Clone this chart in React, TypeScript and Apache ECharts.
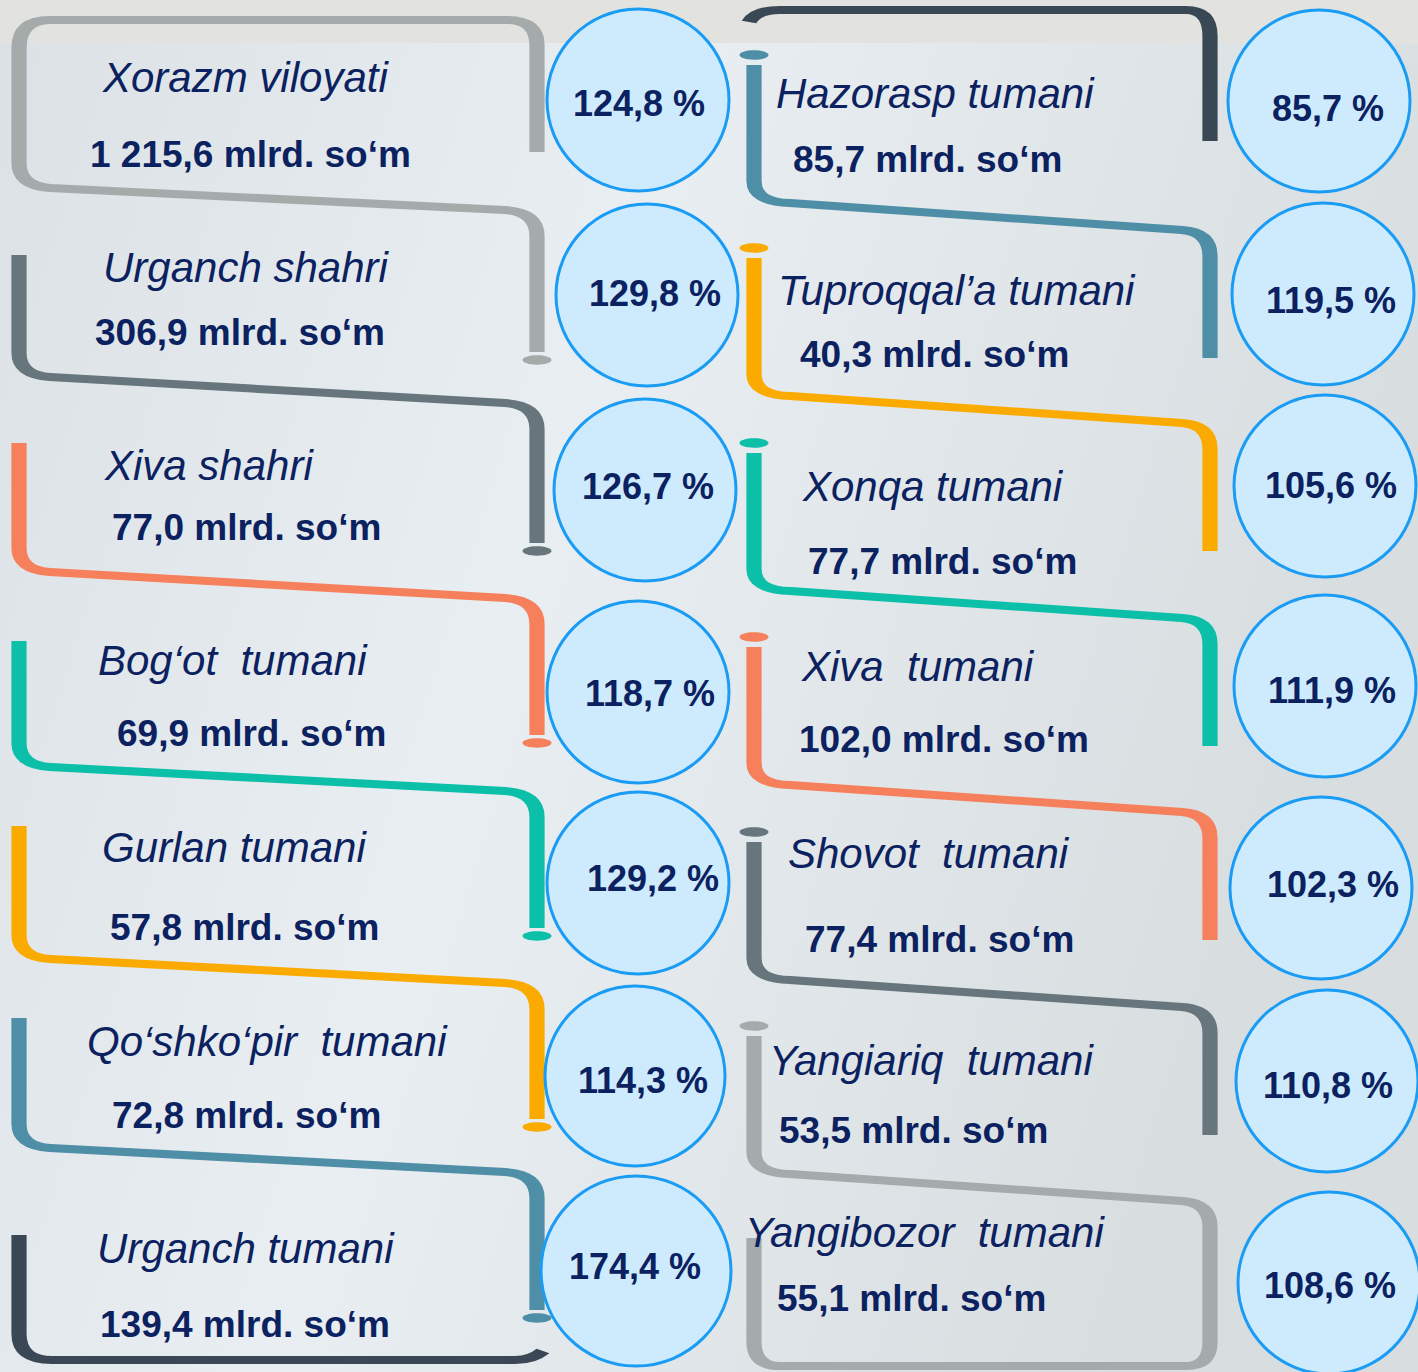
import React, { useEffect, useRef } from "react";
import * as echarts from "echarts";

// ---------- data ----------
const leftNames = [
  "Xorazm viloyati",
  "Urganch shahri",
  "Xiva shahri",
  "Bog‘ot  tumani",
  "Gurlan tumani",
  "Qo‘shko‘pir  tumani",
  "Urganch tumani",
];
const leftValues = [1215.6, 306.9, 77.0, 69.9, 57.8, 72.8, 139.4];
const leftPercents = [124.8, 129.8, 126.7, 118.7, 129.2, 114.3, 174.4];

const rightNames = [
  "Hazorasp tumani",
  "Tuproqqal’a tumani",
  "Xonqa tumani",
  "Xiva  tumani",
  "Shovot  tumani",
  "Yangiariq  tumani",
  "Yangibozor  tumani",
];
const rightValues = [85.7, 40.3, 77.7, 102.0, 77.4, 53.5, 55.1];
const rightPercents = [85.7, 119.5, 105.6, 111.9, 102.3, 110.8, 108.6];

const unit = "mlrd. so‘m";

// ---------- styles ----------
const GREY = "#a5aaab";
const DGREY = "#66767c";
const CORAL = "#f7805c";
const TEAL = "#0cbfa9";
const AMBER = "#fbab00";
const STEEL = "#4f8ea7";
const SLATE = "#3a4856";
const leftColors = [GREY, DGREY, CORAL, TEAL, AMBER, STEEL, SLATE];
const rightColors = [STEEL, AMBER, TEAL, CORAL, DGREY, GREY, GREY];
const TEXT = "#0b2160";
const FONT = '"Liberation Sans", Arial, Helvetica, sans-serif';

// ---------- layout ----------
const W = 1418;
const H = 1372;
const leftNamePos = [[103, 77], [103, 267], [105, 465], [98, 660], [102, 847], [87, 1041], [97, 1248]];
const leftValuePos = [[90, 154], [95, 332], [112, 527], [117, 733], [110, 927], [112, 1115], [100, 1324]];
const rightNamePos = [[776, 93], [778, 290], [803, 486], [802, 666], [788, 853], [769, 1060], [745, 1232]];
const rightValuePos = [[793, 159], [800, 354], [808, 561], [799, 739], [805, 939], [779, 1130], [777, 1298]];
const leftCircles = [[638, 100, 91], [647, 295, 91], [645, 490, 91], [638, 692, 91], [638, 883, 91], [635, 1076, 90], [636, 1271, 95]];
const rightCircles = [[1319, 101, 91], [1323, 294, 91], [1325, 486, 91], [1325, 686, 91], [1321, 888, 91], [1327, 1081, 91], [1329, 1283, 91]];
const leftPctPos = [[639, 103], [655, 293], [648, 486], [650, 693], [653, 878], [643, 1080], [635, 1266]];
const rightPctPos = [[1328, 108], [1331, 300], [1331, 485], [1332, 690], [1333, 884], [1328, 1085], [1330, 1285]];
// left standard connectors: [top, slantLeftY, slantRightY, dotY]
const leftRows = [
  null,
  [255, 377, 403, 551],
  [443, 572, 598, 743],
  [641, 767, 791, 936],
  [826, 959, 983, 1127],
  [1018, 1148, 1172, 1318],
  null,
];
// right standard connectors: dot Y
const rightDots = [55, 248, 443, 637, 832, 1026];

const SX = 1.9; // horizontal stretch of strokes (vertical strokes are thicker)
const LW = 8;

function fmtNum(v: number): string {
  const [i, d] = v.toFixed(1).split(".");
  const intPart = i.replace(/\B(?=(\d{3})+(?!\d))/g, " ");
  return intPart + "," + d;
}

class PathBuilder {
  parts: string[] = [];
  M(x: number, y: number) { this.parts.push(`M${x / SX} ${y}`); return this; }
  L(x: number, y: number) { this.parts.push(`L${x / SX} ${y}`); return this; }
  Q(cx: number, cy: number, x: number, y: number) {
    this.parts.push(`Q${cx / SX} ${cy} ${x / SX} ${y}`);
    return this;
  }
  toString() { return this.parts.join(" "); }
}

type Conn = { color: string; d: string; dot?: [number, number] };

function buildConnectors(): Conn[] {
  const out: Conn[] = [];
  const LX = 19, RX = 537;
  // Xorazm box
  {
    const p = new PathBuilder()
      .M(RX, 152).L(RX, 45).Q(RX, 20, 507, 20).L(50, 20).Q(LX, 20, LX, 48)
      .L(LX, 163).Q(LX, 186, 50, 188).L(505, 210).Q(RX, 212, RX, 236).L(RX, 352);
    out.push({ color: leftColors[0], d: p.toString(), dot: [RX, 360] });
  }
  for (let i = 1; i <= 5; i++) {
    const [t, sL, sR, dy] = leftRows[i] as number[];
    const p = new PathBuilder()
      .M(LX, t).L(LX, sL - 24).Q(LX, sL - 2, 50, sL).L(505, sR)
      .Q(RX, sR + 2, RX, sR + 26).L(RX, dy - 8);
    out.push({ color: leftColors[i], d: p.toString(), dot: [RX, dy] });
  }
  // Urganch tumani bottom
  {
    const p = new PathBuilder()
      .M(LX, 1235).L(LX, 1334).Q(LX, 1360, 52, 1360).L(515, 1360).Q(532, 1360, 543, 1351);
    out.push({ color: leftColors[6], d: p.toString() });
  }
  const RLX = 754, RRX = 1210;
  // top right dark line
  {
    const p = new PathBuilder()
      .M(749, 22).Q(756, 10, 780, 10).L(1186, 10).Q(RRX, 10, RRX, 36).L(RRX, 141);
    out.push({ color: SLATE, d: p.toString() });
  }
  for (let i = 0; i < 5; i++) {
    const dy = rightDots[i];
    const sL = dy + 148, sR = dy + 175;
    const p = new PathBuilder()
      .M(RLX, dy + 10).L(RLX, sL - 22).Q(RLX, sL - 1, 790, sL).L(1182, sR)
      .Q(RRX, sR + 2, RRX, sR + 26).L(RRX, dy + 303);
    out.push({ color: rightColors[i], d: p.toString(), dot: [RLX, dy] });
  }
  // Yangiariq + Yangibozor box
  {
    const dy = rightDots[5];
    const sL = dy + 148, sR = dy + 175;
    const p = new PathBuilder()
      .M(RLX, dy + 10).L(RLX, sL - 22).Q(RLX, sL - 1, 790, sL).L(1182, sR)
      .Q(RRX, sR + 2, RRX, sR + 26).L(RRX, 1342).Q(RRX, 1366, 1186, 1366)
      .L(780, 1366).Q(RLX, 1366, RLX, 1342).L(RLX, 1238);
    out.push({ color: rightColors[5], d: p.toString(), dot: [RLX, dy] });
  }
  return out;
}

export default function App() {
  const ref = useRef<HTMLDivElement>(null);

  useEffect(() => {
    document.body.style.margin = "0";
    if (!ref.current) return;
    const chart = echarts.init(ref.current, undefined, { renderer: "svg" });
    const conns = buildConnectors();

    const elements: any[] = [];
    // background
    elements.push({
      type: "rect",
      z: -20,
      shape: { x: 0, y: 0, width: W, height: H },
      style: {
        fill: new echarts.graphic.LinearGradient(0, 0, 1, 0.3, [
          { offset: 0, color: "#dbe1e5" },
          { offset: 0.45, color: "#e8eef1" },
          { offset: 1, color: "#d8dde0" },
        ]),
      },
    });
    elements.push({
      type: "rect",
      z: -19,
      shape: { x: 0, y: 0, width: W, height: 43 },
      style: { fill: "#e2e2df" },
    });

    const addColumn = (
      names: string[], values: number[], pcts: number[],
      namePos: number[][], valuePos: number[][], circles: number[][], pctPos: number[][]
    ) => {
      names.forEach((name, i) => {
        elements.push({
          type: "text", z: 50, x: namePos[i][0], y: namePos[i][1],
          style: {
            text: name, fill: TEXT, fontFamily: FONT, fontSize: 42,
            fontStyle: "italic", fontWeight: "normal", align: "left", verticalAlign: "middle",
          },
        });
        elements.push({
          type: "text", z: 50, x: valuePos[i][0], y: valuePos[i][1],
          style: {
            text: fmtNum(values[i]) + " " + unit, fill: TEXT, fontFamily: FONT, fontSize: 37,
            fontWeight: "bold", align: "left", verticalAlign: "middle",
          },
        });
        const [cx, cy, r] = circles[i];
        elements.push({
          type: "ellipse", z: 60,
          shape: { cx, cy, rx: r, ry: r },
          style: { fill: "#cdebfd", stroke: "#1a9cf5", lineWidth: 3 },
        });
        elements.push({
          type: "text", z: 61, x: pctPos[i][0], y: pctPos[i][1],
          style: {
            text: fmtNum(pcts[i]) + " %", fill: TEXT, fontFamily: FONT, fontSize: 36,
            fontWeight: "bold", align: "center", verticalAlign: "middle",
          },
        });
      });
    };
    addColumn(leftNames, leftValues, leftPercents, leftNamePos, leftValuePos, leftCircles, leftPctPos);
    addColumn(rightNames, rightValues, rightPercents, rightNamePos, rightValuePos, rightCircles, rightPctPos);

    chart.setOption({
      animation: false,
      graphic: { elements },
      series: [
        {
          type: "custom",
          coordinateSystem: "none",
          z: 10,
          silent: true,
          data: conns.map((_, i) => i),
          renderItem: (params: any) => {
            const c = conns[params.dataIndex];
            const children: any[] = [
              {
                type: "path",
                scaleX: SX,
                shape: { pathData: c.d },
                style: { fill: "none", stroke: c.color, lineWidth: LW, lineCap: "butt", lineJoin: "round" },
              },
            ];
            if (c.dot) {
              children.push({
                type: "ellipse",
                shape: { cx: c.dot[0], cy: c.dot[1], rx: 14.5, ry: 4.7 },
                style: { fill: c.color, stroke: "none" },
              });
            }
            return { type: "group", children };
          },
        },
      ],
    });
    return () => chart.dispose();
  }, []);

  return <div ref={ref} style={{ width: W, height: H }} />;
}
